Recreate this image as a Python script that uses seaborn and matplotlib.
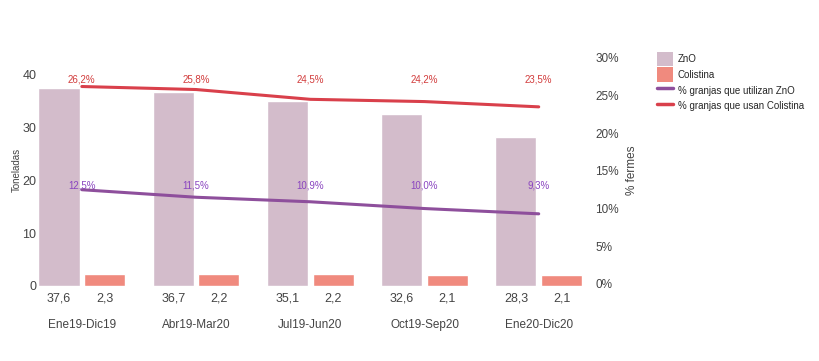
import matplotlib
matplotlib.use("Agg")
import matplotlib.pyplot as plt
import matplotlib.transforms as mtransforms
from matplotlib.patches import Patch
from matplotlib.lines import Line2D
import seaborn as sns
import pandas as pd
import numpy as np

periods = ["Ene19-Dic19", "Abr19-Mar20", "Jul19-Jun20", "Oct19-Sep20", "Ene20-Dic20"]
zno_tons = [37.6, 36.7, 35.1, 32.6, 28.3]
colistina_tons = [2.3, 2.2, 2.2, 2.1, 2.1]
pct_zno = [12.5, 11.5, 10.9, 10.0, 9.3]
pct_colistina = [26.2, 25.8, 24.5, 24.2, 23.5]
left_ticks = [0, 10, 20, 30, 40]
right_ticks = [0, 5, 10, 15, 20, 25, 30]

c_zno = "#d3bccb"
c_col = "#f08a7e"
c_line_zno = "#8e4f9c"
c_line_col = "#d9404b"
c_txt_zno = "#8a45c0"
c_txt_col = "#d23c3c"
txt_grey = "#444444"

sns.set_theme(style="white")
plt.rcParams["font.family"] = ["Liberation Sans", "DejaVu Sans"]

df = pd.DataFrame({
    "periodo": periods * 2,
    "tons": zno_tons + colistina_tons,
    "producto": ["ZnO"] * 5 + ["Colistina"] * 5,
})

fig = plt.figure(figsize=(8.2, 3.61), dpi=100)
ax = fig.add_axes([0.0427, 0.208, 0.670, 0.640])

sns.barplot(data=df, x="periodo", y="tons", hue="producto", order=periods,
            hue_order=["ZnO", "Colistina"], palette=[c_zno, c_col],
            width=0.8, gap=0.1, ax=ax, legend=False, saturation=1)
ax.set_xlim(-0.41, 4.40)
ax.set_ylim(0, 43.8)
ax.set_yticks(left_ticks)
ax.set_yticklabels([str(t) for t in left_ticks], fontsize=9, color=txt_grey)
ax.set_ylabel("Toneladas", fontsize=7, color=txt_grey)
ax.yaxis.set_label_coords(-0.024, 0.5)
ax.set_xlabel("")
ax.tick_params(axis="x", length=0, pad=24, labelsize=8.5, labelcolor=txt_grey)
ax.tick_params(axis="y", length=0, pad=-1)
for s in ax.spines.values():
    s.set_visible(False)

xs = np.arange(len(periods))
trans = mtransforms.blended_transform_factory(ax.transData, ax.transAxes)
for i in range(len(periods)):
    ax.text(xs[i] - 0.2, -0.055, f"{zno_tons[i]:.1f}".replace(".", ","), transform=trans,
            ha="center", va="center", fontsize=9, color=txt_grey)
    ax.text(xs[i] + 0.2, -0.055, f"{colistina_tons[i]:.1f}".replace(".", ","), transform=trans,
            ha="center", va="center", fontsize=9, color=txt_grey)

ax2 = ax.twinx()
ldf = pd.DataFrame({"x": list(xs) * 2,
                    "pct": pct_zno + pct_colistina,
                    "serie": ["zno"] * 5 + ["col"] * 5})
sns.lineplot(data=ldf[ldf.serie == "zno"], x="x", y="pct", color=c_line_zno, linewidth=2.2, ax=ax2)
sns.lineplot(data=ldf[ldf.serie == "col"], x="x", y="pct", color=c_line_col, linewidth=2.2, ax=ax2)
ax2.set_xlim(-0.41, 4.40)
ax2.set_ylim(-0.27, 30.4)
ax2.set_yticks(right_ticks)
ax2.set_yticklabels([f"{t}%" for t in right_ticks], fontsize=8.5, color=txt_grey)
ax2.tick_params(axis="y", length=0, pad=8)
ax2.set_ylabel("% fermes", fontsize=8.5, color=txt_grey, labelpad=5)
ax2.set_xlabel("")
for s in ax2.spines.values():
    s.set_visible(False)

trans2 = mtransforms.blended_transform_factory(ax2.transData, ax2.transAxes)
for i in range(len(periods)):
    ax2.text(xs[i], 0.892, f"{pct_colistina[i]:.1f}%".replace(".", ","), transform=trans2,
             ha="center", va="center", fontsize=7, color=c_txt_col)
    ax2.text(xs[i], 0.433, f"{pct_zno[i]:.1f}%".replace(".", ","), transform=trans2,
             ha="center", va="center", fontsize=7, color=c_txt_zno)

handles = [Patch(facecolor=c_zno, edgecolor="none"),
           Patch(facecolor=c_col, edgecolor="none"),
           Line2D([0], [0], color=c_line_zno, lw=2.5),
           Line2D([0], [0], color=c_line_col, lw=2.5)]
labels = ["ZnO", "Colistina", "% granjas que utilizan ZnO", "% granjas que usan Colistina"]
fig.legend(handles, labels, loc="upper left", bbox_to_anchor=(0.797, 0.868),
           frameon=False, fontsize=7, handlelength=1.6, handleheight=1.9,
           handletextpad=0.5, labelspacing=0.15, borderaxespad=0)

fig.savefig("out.png", dpi=100)
